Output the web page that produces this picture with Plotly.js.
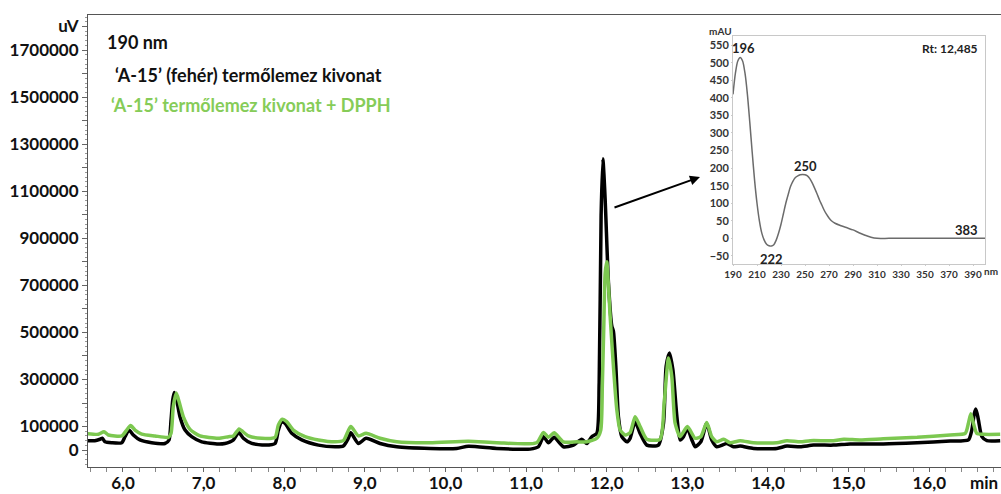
<!DOCTYPE html>
<html>
<head>
<meta charset="utf-8">
<script src="https://cdn.plot.ly/plotly-3.0.1.min.js"></script>
<style>html,body{margin:0;padding:0;background:#fff;}#chart{width:1001px;height:494px;}</style>
</head>
<body>
<div id="chart"></div>
<script>
// Chromatogram, 190 nm — 'A-15' (fehér) termőlemez kivonat (black)
const blackTime = [5.53,5.65,5.715,5.743,5.777,5.86,5.984,6.025,6.074,6.128,6.21,6.356,6.52,6.571,6.596,6.617,6.637,6.666,6.707,6.77,6.852,6.976,7.183,7.265,7.328,7.369,7.423,7.44,7.493,7.597,7.762,7.886,7.927,7.969,8.01,8.093,8.217,8.424,8.63,8.733,8.795,8.825,8.92,9.015,9.189,9.396,9.809,10.14,10.284,10.636,11.05,11.153,11.215,11.277,11.347,11.463,11.587,11.69,11.753,11.815,11.877,11.906,11.93,11.952,11.98,12.021,12.063,12.083,12.113,12.145,12.187,12.25,12.29,12.352,12.414,12.497,12.641,12.704,12.737,12.778,12.82,12.87,12.91,12.952,13.0,13.056,13.097,13.167,13.24,13.302,13.366,13.49,13.572,13.655,13.82,14.11,14.234,14.4,14.565,14.81,15.02,15.43,15.85,16.26,16.486,16.528,16.56,16.58,16.61,16.653,16.715,16.88];
const blackUV = [40000,40000,46000,50000,35000,31000,31000,57000,85000,64000,43000,31000,28000,43000,128000,213000,245000,213000,142000,85000,57000,35000,26000,28000,35000,43000,71000,74000,50000,28000,21000,28000,85000,121000,114000,71000,43000,21000,14000,17000,50000,74000,28000,50000,28000,14000,7000,7000,16000,7000,4000,14000,57000,31000,54000,14000,21000,46000,28000,57000,71000,285000,996000,1238000,1068000,712000,527000,505000,356000,142000,57000,35000,50000,121000,71000,21000,21000,114000,356000,413000,342000,142000,43000,57000,93000,43000,14000,35000,114000,43000,14000,28000,14000,17000,7000,7000,17000,14000,21000,21000,26000,26000,31000,38000,43000,85000,157000,174000,128000,57000,40000,40000];

// 'A-15' termőlemez kivonat + DPPH (green)
const greenTime = [5.53,5.694,5.764,5.818,5.984,6.046,6.095,6.149,6.232,6.397,6.562,6.596,6.624,6.661,6.695,6.748,6.831,6.955,7.183,7.307,7.369,7.44,7.473,7.555,7.72,7.886,7.927,7.977,8.03,8.113,8.258,8.424,8.63,8.733,8.825,8.92,9.015,9.189,9.396,9.809,10.284,10.636,11.13,11.215,11.277,11.347,11.463,11.63,11.753,11.877,11.926,11.946,11.963,11.98,12.0,12.021,12.042,12.083,12.125,12.166,12.228,12.29,12.352,12.414,12.497,12.662,12.712,12.766,12.807,12.848,12.91,13.0,13.097,13.167,13.24,13.302,13.366,13.45,13.53,13.655,13.82,14.11,14.234,14.4,14.524,14.81,14.94,15.14,15.43,15.85,16.26,16.447,16.486,16.515,16.548,16.59,16.673,16.88];
const greenUV = [71000,67000,78000,64000,60000,85000,104000,85000,68000,60000,54000,71000,185000,242000,206000,142000,88000,60000,50000,57000,60000,90000,82000,60000,50000,54000,107000,131000,121000,85000,57000,43000,35000,40000,100000,60000,71000,50000,35000,31000,37000,31000,31000,75000,54000,74000,35000,35000,35000,50000,85000,285000,520000,750000,800000,700000,569000,356000,171000,85000,64000,74000,142000,100000,46000,46000,199000,391000,313000,114000,57000,100000,50000,57000,117000,57000,35000,46000,31000,40000,31000,31000,40000,35000,40000,40000,46000,43000,48000,54000,64000,71000,114000,154000,114000,71000,67000,67000];

// UV spectrum of the peak (inset)
const specNm  = [190,192,194,196,198,200,202,204,206,208,210,212,214,216,218,220,222,224,226,228,230,232,234,236,238,240,242,244,246,248,250,252,254,256,258,260,262,264,266,268,270,272,275,280,285,290,295,300,305,310,320,340,360,380,400];
const specMAU = [410,470,505,515,505,470,410,330,245,165,100,50,15,-5,-17,-21,-22,-18,-5,15,40,70,100,125,148,163,173,178,181,182,181,178,170,158,143,127,110,95,80,68,58,50,43,36,30,24,16,9,3,0,0,0,0,0,0];
const specLabels = [196,222,250,383];

// Tick labels
const xTickVals = [6,7,8,9,10,11,12,13,14,15,16];
const xTickLabels = ["6,0","7,0","8,0","9,0","10,0","11,0","12,0","13,0","14,0","15,0","16,0"];
const yTickVals = [0,100000,200000,300000,400000,500000,600000,700000,800000,900000,1000000,1100000,1200000,1300000,1400000,1500000,1600000,1700000,1800000];
const yTickLabels = ["0","100000","","300000","","500000","","700000","","900000","","1100000","","1300000","","1500000","","1700000","uV"];
const insetXVals = [190,210,230,250,270,290,310,330,350,370,390];
const insetXLabels = ["190","210","230","250","270","290","310","330","350","370","390"];
const insetYVals = [-50,0,50,100,150,200,250,300,350,400,450,500,550];

const FONT = "Lato, 'Open Sans', 'DejaVu Sans', sans-serif";
const GREEN = "#7cc850";

function specAt(nm){ const i = specNm.indexOf(nm); if (i>=0) return specMAU[i];
  for (let k=0;k<specNm.length-1;k++){ if (nm>=specNm[k] && nm<=specNm[k+1]) return specMAU[k]; } return 0; }

const traces = [
  {x: blackTime, y: blackUV, type:'scatter', mode:'lines', line:{color:'#000000', width:3.5, shape:'spline', smoothing:0.6}, hoverinfo:'skip', xaxis:'x', yaxis:'y'},
  {x: greenTime, y: greenUV, type:'scatter', mode:'lines', line:{color:GREEN, width:3.5, shape:'spline', smoothing:0.6}, hoverinfo:'skip', xaxis:'x', yaxis:'y'},
  {x: specNm, y: specMAU, type:'scatter', mode:'lines', line:{color:'#6b6b6b', width:1.5, shape:'spline', smoothing:0.8}, hoverinfo:'skip', xaxis:'x2', yaxis:'y2'}
];

const anns = [
  {xref:'paper', yref:'paper', x:0.0186, y:0.940, xanchor:'left', yanchor:'middle', text:'190 nm', showarrow:false, font:{family:FONT, size:18, color:'#111', weight:700}},
  {xref:'paper', yref:'paper', x:0.0274, y:0.867, xanchor:'left', yanchor:'middle', text:'‘A-15’ (fehér) termőlemez kivonat', showarrow:false, font:{family:FONT, size:18, color:'#111', weight:700}},
  {xref:'paper', yref:'paper', x:0.023, y:0.801, xanchor:'left', yanchor:'middle', text:'‘A-15’ termőlemez kivonat + DPPH', showarrow:false, font:{family:FONT, size:18, color:'#86cc58', weight:700}},
  {xref:'paper', yref:'paper', x:(700-88)/913, y:(467-177)/452, ax:-87, ay:31, text:'', showarrow:true, arrowhead:2, arrowsize:1, arrowwidth:2, arrowcolor:'#000', standoff:0},
  {xref:'paper', yref:'paper', x:1, y:(467-482)/452, xanchor:'right', yanchor:'middle', xshift:-1, text:'min', showarrow:false, font:{family:FONT, size:17, color:'#111', weight:700}},
  {xref:'x2 domain', yref:'y2 domain', x:-0.05, y:1.02, xanchor:'center', yanchor:'middle', text:'mAU', showarrow:false, font:{family:FONT, size:10, color:'#333', weight:700}},
  {xref:'x2 domain', yref:'y2 domain', x:1.025, y:(264-271)/228, xanchor:'center', yanchor:'middle', text:'nm', showarrow:false, font:{family:FONT, size:10, color:'#333', weight:700}},
  {xref:'x2 domain', yref:'y2 domain', x:0.98, y:0.943, xanchor:'right', yanchor:'middle', text:'Rt: 12,485', showarrow:false, font:{family:FONT, size:12, color:'#222', weight:700}}
];
const labelPos = {196:{yanchor:'bottom', yshift:-1, xshift:3}, 222:{yanchor:'top', yshift:-3, xshift:0}, 250:{yanchor:'bottom', yshift:-1, xshift:0}, 383:{yanchor:'bottom', yshift:-2, xshift:2}};
specLabels.forEach(nm => {
  const p = labelPos[nm];
  anns.push({xref:'x2', yref:'y2', x:nm, y:specAt(nm), xanchor:'center', yanchor:p.yanchor, yshift:p.yshift, xshift:p.xshift, text:String(nm), showarrow:false, font:{family:FONT, size:13, color:'#222', weight:700}});
});

const layout = {
  width:1001, height:494, autosize:false,
  margin:{l:88, r:0, t:15, b:27, pad:0},
  paper_bgcolor:'#ffffff', plot_bgcolor:'rgba(0,0,0,0)',
  showlegend:false,
  xaxis:{range:[5.566,16.89], tickvals:xTickVals, ticktext:xTickLabels, ticks:'outside', ticklen:4, tickcolor:'#666',
    ticklabelstandoff:-3,
    showline:true, linecolor:'#555', linewidth:1, mirror:true, showgrid:false, zeroline:false,
    minor:{dtick:0.2, tick0:0, ticks:'outside', ticklen:4, tickcolor:'#888'},
    tickfont:{family:FONT, size:17, color:'#111', weight:700}, domain:[0,1]},
  yaxis:{range:[-72000,1849000], tickvals:yTickVals, ticktext:yTickLabels, ticks:'outside', ticklen:5, tickcolor:'#666',
    showline:true, linecolor:'#555', linewidth:1, showgrid:false, zeroline:false,
    minor:{dtick:20000, tick0:0, ticks:'outside', ticklen:2, tickcolor:'#999'},
    tickfont:{family:FONT, size:17, color:'#111', weight:700}, domain:[0,1]},
  xaxis2:{anchor:'y2', domain:[(733-88)/913, (985-88)/913], range:[190,400], tickvals:insetXVals, ticktext:insetXLabels,
    tickangle:0, ticks:'outside', ticklen:1, tickcolor:'#ccc', showline:true, linecolor:'#c8c8c8', linewidth:1, mirror:true,
    showgrid:false, zeroline:false, tickfont:{family:FONT, size:10, color:'#333', weight:700}},
  yaxis2:{anchor:'x2', domain:[(467-264)/452, (467-36)/452], range:[-73,576], tickvals:insetYVals,
    ticks:'outside', ticklen:1, tickcolor:'#ccc', showline:true, linecolor:'#c8c8c8', linewidth:1, mirror:true,
    showgrid:false, zeroline:false, tickfont:{family:FONT, size:11, color:'#333', weight:700}},
  shapes:[
    {type:'rect', xref:'x2 domain', yref:'y2 domain', x0:0, x1:1, y0:0, y1:1, fillcolor:'#ffffff', line:{width:0}, layer:'below'}
  ],
  annotations: anns
};

Plotly.newPlot('chart', traces, layout, {staticPlot:true, displayModeBar:false});
</script>
</body>
</html>
